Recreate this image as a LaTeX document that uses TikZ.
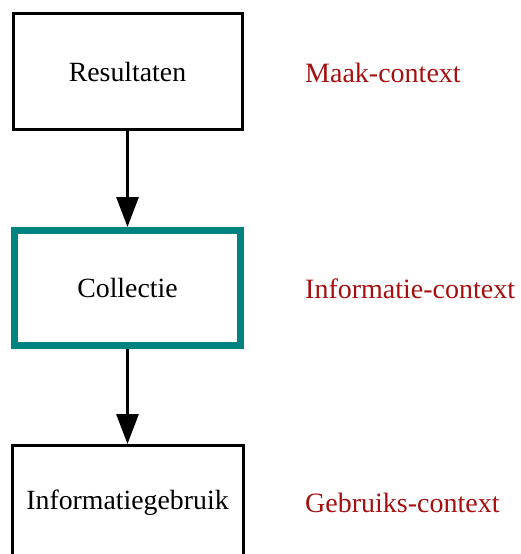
\documentclass[tikz,border=0pt]{standalone}
\usepackage{fontspec}
\setmainfont{Liberation Serif}
\usepackage{xcolor}
\usetikzlibrary{arrows.meta}

\definecolor{ctxred}{HTML}{A50F0F}
\definecolor{colteal}{HTML}{00837F}

\tikzset{
	box/.style={draw, line width=3pt, minimum width=229pt, minimum height=116pt, inner sep=0pt, font=\fontsize{27.8}{32}\selectfont},
	ctx/.style={text=ctxred, anchor=base west, inner sep=0pt, font=\fontsize{28}{32}\selectfont},
	flow/.style={line width=3pt, -{Triangle[width=22pt,length=30pt]}}
}

\begin{document}
\begin{tikzpicture}[x=1pt, y=-1pt]
	\useasboundingbox (0,0) rectangle (520,554);

	% Define the nodes with specific positions
	\node[box] (res) at (127.5, 71.5) {Resultaten};
	\node[box, draw=colteal, line width=7pt, minimum width=226pt, minimum height=115pt] (col) at (127.5, 288) {Collectie};
	\node[box, minimum width=231pt, minimum height=115pt] (use) at (127.5, 503) {Informatiegebruik};

	\node[ctx] (maak) at (305, 82) {Maak-context};
	\node[ctx] (info) at (305, 298) {Informatie-context};
	\node[ctx] (gebr) at (305, 512) {Gebruiks-context};

	% Draw the edges between the boxes
	\draw[flow] (res) -- (col);
	\draw[flow] (col) -- (use);
\end{tikzpicture}
\end{document}
